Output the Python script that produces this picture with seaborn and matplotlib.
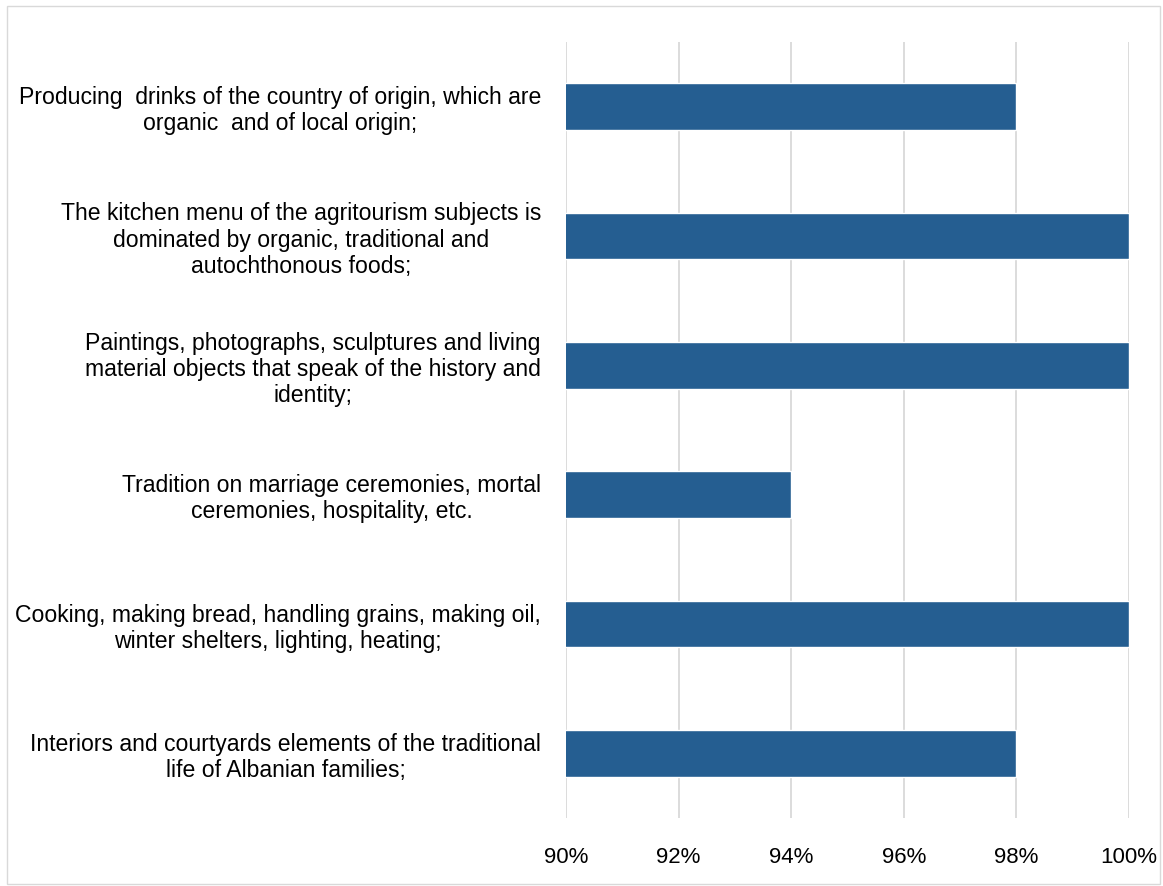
import matplotlib
matplotlib.use("Agg")
import matplotlib.pyplot as plt
import seaborn as sns
import pandas as pd
from matplotlib.patches import Rectangle

categories = [
    "Producing  drinks of the country of origin, which are\norganic  and of local origin;",
    "The kitchen menu of the agritourism subjects is\ndominated by organic, traditional and\nautochthonous foods;",
    "Paintings, photographs, sculptures and living\nmaterial objects that speak of the history and\nidentity;",
    "Tradition on marriage ceremonies, mortal\nceremonies, hospitality, etc.",
    "Cooking, making bread, handling grains, making oil,\nwinter shelters, lighting, heating;",
    "Interiors and courtyards elements of the traditional\nlife of Albanian families;",
]
values = [98, 100, 100, 94, 100, 98]
xticks = [90, 92, 94, 96, 98, 100]
xtick_labels = ["90%", "92%", "94%", "96%", "98%", "100%"]

sns.set_theme(style="white")
plt.rcParams['font.family'] = ['Liberation Sans', 'DejaVu Sans']

W, H = 1163, 886
fig = plt.figure(figsize=(W / 100, H / 100), dpi=100)
ax = fig.add_axes([566 / W, 1 - 818 / H, (1129 - 566) / W, (818 - 42) / H])

df = pd.DataFrame({"cat": categories, "val": values})
sns.barplot(data=df, y="cat", x="val", orient="h", color="#255E91",
            width=0.36, ax=ax, saturation=1)

ax.set_xlim(90, 100)
ax.set_xticks(xticks)
ax.set_xticklabels(xtick_labels, fontsize=16, color="black")
ax.set_yticks(range(len(categories)))
ax.set_yticklabels(categories, fontsize=16.6, ma="center", color="black",
                   linespacing=1.17)
ax.set_xlabel("")
ax.set_ylabel("")
ax.tick_params(axis="y", length=0, pad=18)
ax.tick_params(axis="x", length=0, pad=21)
ax.grid(axis="x", color="#d9d9d9", linewidth=1.3)
ax.set_axisbelow(True)
for s in ax.spines.values():
    s.set_visible(False)

fig.patches.append(Rectangle((7 / W, 1 - 884 / H), (1160 - 7) / W, (884 - 6) / H,
                             transform=fig.transFigure, fill=False,
                             edgecolor="#d9d9d9", linewidth=1))

fig.savefig("out.png", dpi=100)
